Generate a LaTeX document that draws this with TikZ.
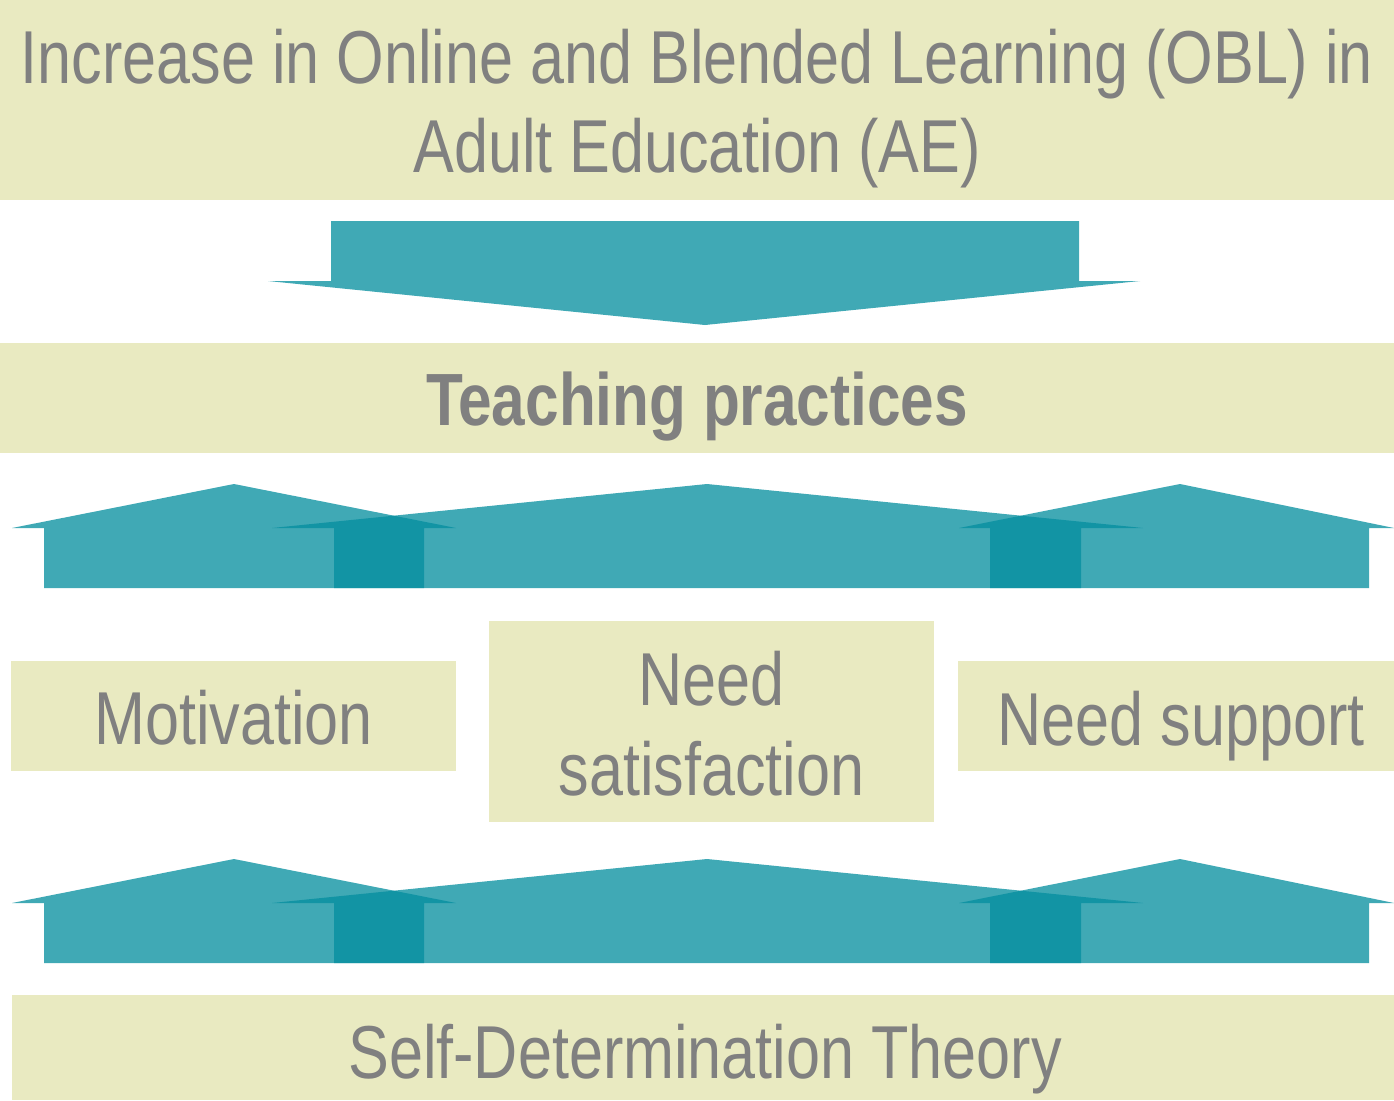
\documentclass[tikz,border=0pt]{standalone}
\usepackage{fontspec}
\setmainfont[FakeStretch=0.815]{Liberation Sans}
\begin{document}
\definecolor{boxfill}{RGB}{233,234,193}
\definecolor{labelgray}{RGB}{128,128,128}
\definecolor{teal}{RGB}{4,142,159}
\begin{tikzpicture}[x=1pt,y=-1pt,
  panel/.style={fill=boxfill,draw=none,inner sep=0pt,minimum width=#1},
  lbl/.style={text=labelgray,inner sep=0pt,anchor=base,font=\fontsize{75}{89}\selectfont},
  blockarrow/.style={fill=teal,fill opacity=0.76,draw=none}]
\useasboundingbox[fill=white] (0,0) rectangle (1394,1100);

% text panels
\node[panel=1394pt,minimum height=200pt] (obl) at (697,100) {};
\node[panel=1394pt,minimum height=110pt] (teach) at (697,398) {};
\node[panel=445pt,minimum height=110pt] (motiv) at (233.5,716) {};
\node[panel=445pt,minimum height=201pt] (needsat) at (711.5,721.5) {};
\node[panel=436pt,minimum height=110pt] (needsup) at (1176,716) {};
\node[panel=1382pt,minimum height=105pt] (sdt) at (703,1047.5) {};

% labels
\node[lbl] (obl1) at (697,83) {Increase in Online and Blended Learning (OBL) in};
\node[lbl] (obl2) at (697,172) {Adult Education (AE)};
\node[lbl,font=\fontsize{74}{89}\bfseries\selectfont] (teachl) at (697,425) {Teaching practices};
\node[lbl] (motivl) at (233.5,744) {Motivation};
\node[lbl] (needsat1) at (711.5,705) {Need};
\node[lbl] (needsat2) at (711.5,795) {satisfaction};
\node[lbl] (needsupl) at (1181,745) {Need support};
\node[lbl] (sdtl) at (705,1078) {Self-Determination Theory};

% downward block arrow
\fill[blockarrow] (331,221) -- (1079,221) -- (1079,281) -- (1140,281)
  -- (705,325) -- (268,281) -- (331,281) -- cycle;

% two rows of three overlapping upward block arrows
\foreach \dy in {0,375} {
  \begin{scope}[yshift=-\dy pt]
    \fill[blockarrow] (44,588) -- (44,528) -- (12,528) -- (234,484)
      -- (456,528) -- (424,528) -- (424,588) -- cycle;
    \fill[blockarrow] (334,588) -- (334,528) -- (272,528) -- (707,484)
      -- (1143,528) -- (1081,528) -- (1081,588) -- cycle;
    \fill[blockarrow] (990,588) -- (990,528) -- (959,528) -- (1180,484)
      -- (1394,528) -- (1369,528) -- (1369,588) -- cycle;
  \end{scope}
}
\end{tikzpicture}
\end{document}
